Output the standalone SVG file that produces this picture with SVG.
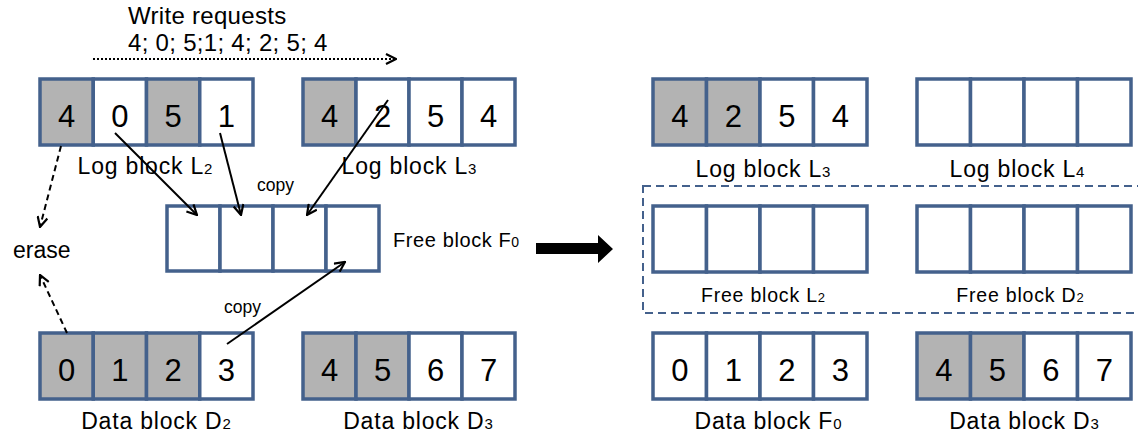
<svg xmlns="http://www.w3.org/2000/svg" width="1138" height="432" viewBox="0 0 1138 432">
  <style>
    text { font-family: "Liberation Sans", Arial, sans-serif; fill: #000; }
    .cell { fill: #fff; stroke: #44618c; stroke-width: 3.5; }
    .cell.g { fill: #b3b3b3; }
    .num { font-size: 31px; text-anchor: middle; }
    .lbl { font-size: 23px; text-anchor: middle; letter-spacing: 0.8px; }
    .sub { font-size: 15px; letter-spacing: 0; }
    .small { font-size: 19.5px; text-anchor: middle; letter-spacing: 0.8px; }
    .copy { font-size: 17.5px; }
    .conn { fill: none; stroke: #000; stroke-width: 2; }
    .dash { stroke-dasharray: 6 4; }
  </style>
  <defs>
    <marker id="vhead" viewBox="0 0 12 12" refX="11" refY="6" markerWidth="12" markerHeight="12" markerUnits="userSpaceOnUse" orient="auto">
      <path d="M1,1 L11,6 L1,11" fill="none" stroke="#000" stroke-width="2.2" stroke-linejoin="miter"/>
    </marker>
  </defs>

  <!-- write request sequence -->
  <g id="write-requests">
    <text x="128" y="24" font-size="24" letter-spacing="0.3">Write requests</text>
    <text x="128" y="51" font-size="24" letter-spacing="0.3">4; 0; 5;1; 4; 2; 5; 4</text>
    <line x1="93" y1="59" x2="396" y2="59" class="conn" stroke-dasharray="2 2" marker-end="url(#vhead)"/>
  </g>

  <!-- left: before merge -->
  <g id="log-L2">
    <rect class="cell g" x="40" y="79" width="53.25" height="66"/>
    <rect class="cell" x="93.25" y="79" width="53.25" height="66"/>
    <rect class="cell g" x="146.5" y="79" width="53.25" height="66"/>
    <rect class="cell" x="199.75" y="79" width="53.25" height="66"/>
    <text class="num" x="66.6" y="127">4</text>
    <text class="num" x="119.9" y="127">0</text>
    <text class="num" x="173.1" y="127">5</text>
    <text class="num" x="226.4" y="127">1</text>
    <text class="lbl" x="145" y="174">Log block L<tspan class="sub">2</tspan></text>
  </g>

  <g id="log-L3">
    <rect class="cell g" x="303" y="79" width="53" height="66"/>
    <rect class="cell" x="356" y="79" width="53" height="66"/>
    <rect class="cell" x="409" y="79" width="53" height="66"/>
    <rect class="cell" x="462" y="79" width="53" height="66"/>
    <text class="num" x="329.5" y="127">4</text>
    <text class="num" x="382.5" y="127">2</text>
    <text class="num" x="435.5" y="127">5</text>
    <text class="num" x="488.5" y="127">4</text>
    <text class="lbl" x="409" y="174">Log block L<tspan class="sub">3</tspan></text>
  </g>

  <g id="free-F0">
    <rect class="cell" x="167" y="206" width="53" height="65"/>
    <rect class="cell" x="220" y="206" width="53" height="65"/>
    <rect class="cell" x="273" y="206" width="53" height="65"/>
    <rect class="cell" x="326" y="206" width="53" height="65"/>
    <text x="393" y="247" font-size="20" letter-spacing="0.6">Free block F<tspan font-size="14" letter-spacing="0">0</tspan></text>
  </g>

  <g id="data-D2">
    <rect class="cell g" x="40" y="333" width="53.25" height="66"/>
    <rect class="cell g" x="93.25" y="333" width="53.25" height="66"/>
    <rect class="cell g" x="146.5" y="333" width="53.25" height="66"/>
    <rect class="cell" x="199.75" y="333" width="53.25" height="66"/>
    <text class="num" x="66.6" y="381">0</text>
    <text class="num" x="119.9" y="381">1</text>
    <text class="num" x="173.1" y="381">2</text>
    <text class="num" x="226.4" y="381">3</text>
    <text class="lbl" x="156" y="429">Data block D<tspan class="sub">2</tspan></text>
  </g>

  <g id="data-D3">
    <rect class="cell g" x="303" y="333" width="53" height="66"/>
    <rect class="cell g" x="356" y="333" width="53" height="66"/>
    <rect class="cell" x="409" y="333" width="53" height="66"/>
    <rect class="cell" x="462" y="333" width="53" height="66"/>
    <text class="num" x="329.5" y="381">4</text>
    <text class="num" x="382.5" y="381">5</text>
    <text class="num" x="435.5" y="381">6</text>
    <text class="num" x="488.5" y="381">7</text>
    <text class="lbl" x="418" y="429">Data block D<tspan class="sub">3</tspan></text>
  </g>

  <g id="erase">
    <text x="13" y="258" font-size="23">erase</text>
  </g>

  <!-- copy / erase connectors -->
  <g id="connectors">
    <line class="conn" x1="115" y1="133" x2="197" y2="215" marker-end="url(#vhead)"/>
    <line class="conn" x1="220" y1="133" x2="241" y2="215" marker-end="url(#vhead)"/>
    <line class="conn" x1="388" y1="100" x2="307" y2="215" marker-end="url(#vhead)"/>
    <line class="conn" x1="227" y1="344" x2="345" y2="262" marker-end="url(#vhead)"/>
    <line class="conn dash" x1="61" y1="146" x2="40" y2="227" marker-end="url(#vhead)"/>
    <line class="conn dash" x1="67" y1="333" x2="40" y2="275" marker-end="url(#vhead)"/>
    <text class="copy" x="257" y="191">copy</text>
    <text class="copy" x="224" y="313">copy</text>
  </g>

  <!-- transition arrow -->
  <g id="transition">
    <path d="M536,243 L598,243 L598,235 L613,249 L598,263 L598,254 L536,254 Z" fill="#000"/>
  </g>

  <!-- right: after merge -->
  <g id="r-log-L3">
    <rect class="cell g" x="653" y="79" width="53.5" height="66"/>
    <rect class="cell g" x="706.5" y="79" width="53.5" height="66"/>
    <rect class="cell" x="760" y="79" width="53.5" height="66"/>
    <rect class="cell" x="813.5" y="79" width="53.5" height="66"/>
    <text class="num" x="679.8" y="127">4</text>
    <text class="num" x="733.3" y="127">2</text>
    <text class="num" x="786.8" y="127">5</text>
    <text class="num" x="840.3" y="127">4</text>
    <text class="lbl" x="763" y="177">Log block L<tspan class="sub">3</tspan></text>
  </g>

  <g id="r-log-L4">
    <rect class="cell" x="917" y="79" width="53.5" height="66"/>
    <rect class="cell" x="970.5" y="79" width="53.5" height="66"/>
    <rect class="cell" x="1024" y="79" width="53.5" height="66"/>
    <rect class="cell" x="1077.5" y="79" width="53.5" height="66"/>
    <text class="lbl" x="1017" y="177">Log block L<tspan class="sub">4</tspan></text>
  </g>

  <g id="free-pool">
    <rect x="643" y="186" width="520" height="127" fill="none" stroke="#44618c" stroke-width="2" stroke-dasharray="8 5"/>
  </g>

  <g id="r-free-L2">
    <rect class="cell" x="653" y="206" width="53.5" height="66"/>
    <rect class="cell" x="706.5" y="206" width="53.5" height="66"/>
    <rect class="cell" x="760" y="206" width="53.5" height="66"/>
    <rect class="cell" x="813.5" y="206" width="53.5" height="66"/>
    <text class="small" x="763" y="302">Free block  L<tspan font-size="13" letter-spacing="0">2</tspan></text>
  </g>

  <g id="r-free-D2">
    <rect class="cell" x="917" y="206" width="53.5" height="66"/>
    <rect class="cell" x="970.5" y="206" width="53.5" height="66"/>
    <rect class="cell" x="1024" y="206" width="53.5" height="66"/>
    <rect class="cell" x="1077.5" y="206" width="53.5" height="66"/>
    <text class="small" x="1020" y="302">Free block  D<tspan font-size="13" letter-spacing="0">2</tspan></text>
  </g>

  <g id="r-data-F0">
    <rect class="cell" x="653" y="333" width="53.5" height="66"/>
    <rect class="cell" x="706.5" y="333" width="53.5" height="66"/>
    <rect class="cell" x="760" y="333" width="53.5" height="66"/>
    <rect class="cell" x="813.5" y="333" width="53.5" height="66"/>
    <text class="num" x="679.8" y="381">0</text>
    <text class="num" x="733.3" y="381">1</text>
    <text class="num" x="786.8" y="381">2</text>
    <text class="num" x="840.3" y="381">3</text>
    <text class="lbl" x="768" y="429">Data block F<tspan class="sub">0</tspan></text>
  </g>

  <g id="r-data-D3">
    <rect class="cell g" x="917" y="333" width="53.5" height="66"/>
    <rect class="cell g" x="970.5" y="333" width="53.5" height="66"/>
    <rect class="cell" x="1024" y="333" width="53.5" height="66"/>
    <rect class="cell" x="1077.5" y="333" width="53.5" height="66"/>
    <text class="num" x="943.8" y="381">4</text>
    <text class="num" x="997.3" y="381">5</text>
    <text class="num" x="1050.8" y="381">6</text>
    <text class="num" x="1104.3" y="381">7</text>
    <text class="lbl" x="1024" y="429">Data block D<tspan class="sub">3</tspan></text>
  </g>
</svg>
